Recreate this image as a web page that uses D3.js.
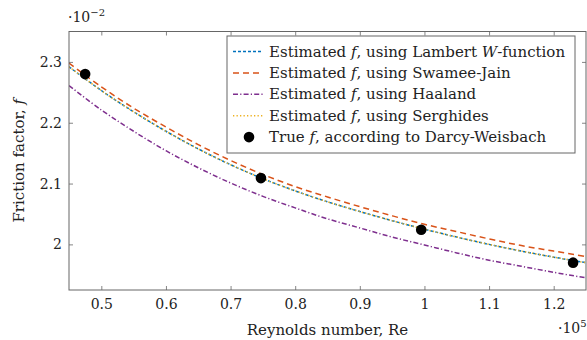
<!DOCTYPE html>
<html>
<head>
<meta charset="utf-8">
<script src="https://cdn.jsdelivr.net/npm/d3@7"></script>
<style>
  body { margin: 0; background: #fff; }
  svg text { font-family: "DejaVu Serif", serif; fill: #222; }
</style>
</head>
<body>
<div id="chart"></div>
<script>
// Reynolds number (x 10^5) where the estimated curves were read
const re = [0.45, 0.5, 0.55, 0.6, 0.65, 0.7, 0.75, 0.8, 0.85, 0.9, 0.95, 1.0, 1.05, 1.1, 1.15, 1.2, 1.25];

// friction factor (x 10^-2)
const lambertW = [2.292, 2.253, 2.218, 2.186, 2.157, 2.131, 2.108, 2.088, 2.070, 2.054, 2.039, 2.025, 2.012, 2.000, 1.989, 1.979, 1.970];
const swameeJain = [2.298, 2.259, 2.224, 2.193, 2.164, 2.138, 2.115, 2.095, 2.078, 2.062, 2.047, 2.033, 2.021, 2.009, 1.998, 1.989, 1.980];
const haaland = [2.261, 2.221, 2.186, 2.154, 2.126, 2.101, 2.079, 2.060, 2.042, 2.027, 2.012, 1.999, 1.986, 1.974, 1.964, 1.954, 1.945];
const serghides = [2.292, 2.253, 2.218, 2.186, 2.157, 2.131, 2.108, 2.088, 2.070, 2.054, 2.039, 2.025, 2.012, 2.000, 1.989, 1.979, 1.970];

// measured points (Darcy-Weisbach)
const trueRe = [0.475, 0.747, 0.995, 1.23];
const trueF = [2.280, 2.109, 2.024, 1.970];

const xTicks = [0.5, 0.6, 0.7, 0.8, 0.9, 1.0, 1.1, 1.2];
const yTicks = [2.0, 2.1, 2.2, 2.3];

const WIDTH = 587;
const HEIGHT = 340;
const LEFT = 69;
const RIGHT = 586;
const TOP = 31.5;
const BOTTOM = 290;
const AXIS_COLOR = '#666';
const FONT = '15px';
const TICK_FONT = '14px';

const svg = d3.select('#chart')
  .append('svg')
  .attr('width', WIDTH)
  .attr('height', HEIGHT);

const x = d3.scaleLinear().domain([0.45, 1.25]).range([LEFT, RIGHT]);
const y = d3.scaleLinear().domain([1.925, 2.35]).range([BOTTOM, TOP]);

const series = [
  { name: 'Lambert', values: lambertW, color: '#0072BD', dash: '3,2', width: 1.5 },
  { name: 'Swamee-Jain', values: swameeJain, color: '#D95319', dash: '6,4', width: 1.5 },
  { name: 'Haaland', values: haaland, color: '#7E2F8E', dash: '5,2.2,1.2,2.2', width: 1.5 },
  { name: 'Serghides', values: serghides, color: '#EDB120', dash: '1.3,2.2', width: 1.5 }
];

svg.append('defs').append('clipPath').attr('id', 'clip')
  .append('rect')
  .attr('x', LEFT).attr('y', TOP)
  .attr('width', RIGHT - LEFT).attr('height', BOTTOM - TOP);

const line = d3.line()
  .x(d => x(d[0]))
  .y(d => y(d[1]))
  .curve(d3.curveCatmullRom);

const plot = svg.append('g').attr('clip-path', 'url(#clip)');

series.forEach(s => {
  plot.append('path')
    .datum(re.map((r, i) => [r, s.values[i]]))
    .attr('fill', 'none')
    .attr('stroke', s.color)
    .attr('stroke-width', s.width)
    .attr('stroke-dasharray', s.dash)
    .attr('d', line);
});

plot.selectAll('circle.true')
  .data(trueRe.map((r, i) => [r, trueF[i]]))
  .enter()
  .append('circle')
  .attr('class', 'true')
  .attr('cx', d => x(d[0]))
  .attr('cy', d => y(d[1]))
  .attr('r', 5.3)
  .attr('fill', '#000');

// axes with inward ticks on all four sides
const tickLen = 4;
const fmt = d => d3.format('')(+d.toFixed(1));

const xBottom = svg.append('g')
  .attr('transform', `translate(0,${BOTTOM})`)
  .call(d3.axisBottom(x).tickValues(xTicks).tickSize(-tickLen).tickPadding(9).tickFormat(fmt));
const xTop = svg.append('g')
  .attr('transform', `translate(0,${TOP})`)
  .call(d3.axisTop(x).tickValues(xTicks).tickSize(-tickLen).tickFormat(''));
const yLeft = svg.append('g')
  .attr('transform', `translate(${LEFT},0)`)
  .call(d3.axisLeft(y).tickValues(yTicks).tickSize(-tickLen).tickPadding(7).tickFormat(fmt));
const yRight = svg.append('g')
  .attr('transform', `translate(${RIGHT},0)`)
  .call(d3.axisRight(y).tickValues(yTicks).tickSize(-tickLen).tickFormat(''));

[xBottom, xTop, yLeft, yRight].forEach(a => {
  a.select('.domain').remove();
  a.selectAll('line').attr('stroke', AXIS_COLOR).attr('stroke-width', 0.8);
  a.selectAll('text')
    .style('font-family', '"DejaVu Serif", serif')
    .style('font-size', TICK_FONT)
    .attr('fill', '#222');
});

svg.append('rect')
  .attr('x', LEFT).attr('y', TOP)
  .attr('width', RIGHT - LEFT).attr('height', BOTTOM - TOP)
  .attr('fill', 'none')
  .attr('stroke', AXIS_COLOR)
  .attr('stroke-width', 1);

// scale multipliers
const mulTop = svg.append('text').attr('x', 68).attr('y', 22).style('font-size', TICK_FONT);
mulTop.append('tspan').text('·10');
mulTop.append('tspan').attr('dy', -6).style('font-size', '10px').text('−2');

const mulBottom = svg.append('text').attr('x', 558).attr('y', 333).style('font-size', TICK_FONT);
mulBottom.append('tspan').text('·10');
mulBottom.append('tspan').attr('dy', -6).style('font-size', '10px').text('5');

// axis labels
svg.append('text')
  .attr('x', (LEFT + RIGHT) / 2)
  .attr('y', 335)
  .attr('text-anchor', 'middle')
  .style('font-size', FONT)
  .text('Reynolds number, Re');

const yl = svg.append('text')
  .attr('transform', `translate(24,${(TOP + BOTTOM) / 2}) rotate(-90)`)
  .attr('text-anchor', 'middle')
  .style('font-size', FONT);
yl.append('tspan').text('Friction factor, ');
yl.append('tspan').style('font-style', 'italic').text('f');

// legend
const legend = svg.append('g');
legend.append('rect')
  .attr('x', 227).attr('y', 36)
  .attr('width', 348).attr('height', 117)
  .attr('fill', '#fff')
  .attr('stroke', AXIS_COLOR)
  .attr('stroke-width', 1);

const legendRows = [
  ['Estimated ', 'f', ', using Lambert ', 'W', '-function'],
  ['Estimated ', 'f', ', using Swamee-Jain'],
  ['Estimated ', 'f', ', using Haaland'],
  ['Estimated ', 'f', ', using Serghides'],
  ['True ', 'f', ', according to Darcy-Weisbach']
];

legendRows.forEach((parts, i) => {
  const cy = 51.5 + i * 21.4;
  if (i < series.length) {
    const s = series[i];
    legend.append('line')
      .attr('x1', 233).attr('x2', 263)
      .attr('y1', cy).attr('y2', cy)
      .attr('stroke', s.color)
      .attr('stroke-width', s.width)
      .attr('stroke-dasharray', s.dash);
  } else {
    legend.append('circle')
      .attr('cx', 249).attr('cy', cy).attr('r', 5.3).attr('fill', '#000');
  }
  const t = legend.append('text')
    .attr('x', 269).attr('y', cy + 5)
    .style('font-size', FONT);
  parts.forEach((p, j) => {
    t.append('tspan').style('font-style', j % 2 === 1 ? 'italic' : 'normal').text(p);
  });
});
</script>
</body>
</html>
